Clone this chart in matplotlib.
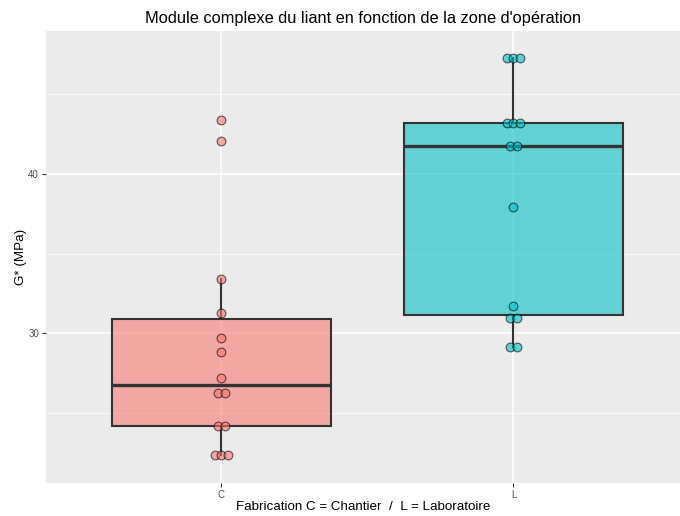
import matplotlib
matplotlib.use("Agg")
import matplotlib.pyplot as plt
import numpy as np
from matplotlib.ticker import FixedLocator

# ---- data ----
categories = ["C", "L"]
values_C = [43.39, 42.09, 33.39, 31.29, 29.70, 28.81, 27.21, 26.25, 26.25,
            24.20, 24.20, 22.36, 22.36, 22.36]
values_L = [47.26, 47.26, 47.26, 43.2, 43.2, 43.2, 41.74, 41.74, 37.91,
            31.71, 30.98, 30.98, 29.16, 29.16]
colors = {"C": "#F8766D", "L": "#00BFC4"}
y_major = [30, 40]
y_minor = [25, 35, 45]

title = "Module complexe du liant en fonction de la zone d'opération"
xlabel = "Fabrication C = Chantier  /  L = Laboratoire"
ylabel = "G* (MPa)"

plt.rcParams['font.family'] = ['Liberation Sans', 'DejaVu Sans']

fig = plt.figure(figsize=(6.8, 5.16), dpi=100)
ax = fig.add_axes([46 / 680, 1 - 482.7 / 516, 1 - 46 / 680, (482.7 - 31) / 516])
ax.set_facecolor("#EBEBEB")

groups = [values_C, values_L]
positions = np.arange(len(categories))

bp = ax.boxplot(groups, positions=positions, widths=0.75,
                patch_artist=True, showfliers=False, showcaps=False, whis=1.5,
                zorder=2)
for patch, cat in zip(bp["boxes"], categories):
    patch.set_facecolor(matplotlib.colors.to_rgba(colors[cat], 0.58))
    patch.set_edgecolor("#333333")
    patch.set_linewidth(1.5)
for w in bp["whiskers"]:
    w.set_color("#333333")
    w.set_linewidth(1.5)
for m in bp["medians"]:
    m.set_color("#333333")
    m.set_linewidth(2.4)

# beeswarm-like centred spread of tied values
spread = 0.023
for pos, cat, vals in zip(positions, categories, groups):
    vals = np.asarray(vals)
    xs = np.full(len(vals), float(pos))
    for v in np.unique(vals):
        idx = np.where(vals == v)[0]
        k = len(idx)
        xs[idx] = pos + (np.arange(k) - (k - 1) / 2) * spread
    ax.scatter(xs, vals, s=6.3 ** 2,
               facecolor=matplotlib.colors.to_rgba(colors[cat], 0.6),
               edgecolor=(0, 0, 0, 0.6), linewidth=0.8, zorder=3)

ax.set_xlim(-0.6, 1.57)
ax.set_ylim(20.62, 48.98)
ax.set_xticks(positions)
ax.set_xticklabels(categories)
ax.yaxis.set_major_locator(FixedLocator(y_major))
ax.yaxis.set_minor_locator(FixedLocator(y_minor))
ax.set_axisbelow(True)
ax.grid(which="major", color="white", linewidth=1.1)
ax.grid(which="minor", axis="y", color="white", linewidth=0.55)
for s in ax.spines.values():
    s.set_visible(False)
ax.tick_params(which="major", length=3, width=0.8, color="#333333",
               labelcolor="#4D4D4D", labelsize=7, pad=2)
ax.tick_params(which="minor", length=0)

ax.set_xlabel(xlabel, fontsize=9.6, color="black", labelpad=1)
ax.set_ylabel(ylabel, fontsize=9.6, color="black", labelpad=1)
ax.set_title(title, fontsize=11.8, color="black", pad=6)

fig.savefig("out.png", dpi=100)
